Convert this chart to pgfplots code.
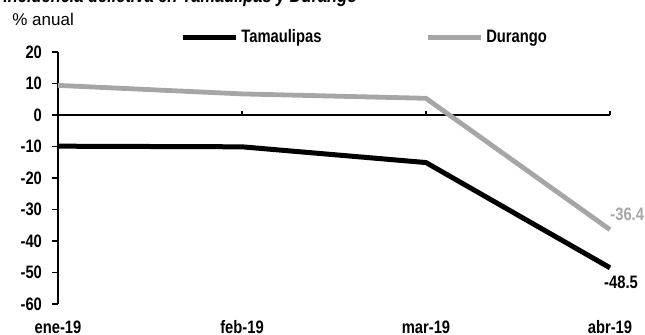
\documentclass[border=0pt]{standalone}
\usepackage{pgfplots}
\pgfplotsset{compat=1.18}
\usepackage{fontspec}
\setmainfont{Liberation Sans}
\newfontfamily\narrowfont{Liberation Sans}[FakeStretch=0.82]
\definecolor{dgrey}{HTML}{A6A6A6}
\begin{document}
\begin{tikzpicture}
\begin{axis}[
  at={(29pt,15.5pt)}, anchor=south west,
  width=276pt, height=126pt, scale only axis,
  xmin=0, xmax=3, ymin=-60, ymax=20,
  clip=false,
  axis x line*=bottom, axis y line*=left,
  x axis line style={draw=none},
  y axis line style={line width=0.8pt, -},
  xtick={0,1,2,3}, xticklabels={ene-19,feb-19,mar-19,abr-19},
  xtick style={draw=none},
  xticklabel style={anchor=base, yshift=-12pt},
  ytick={-60,-50,-40,-30,-20,-10,0,10,20},
  yticklabels={-60,-50,-40,-30,-20,-10,0,10,20},
  ytick style={black, line width=0.8pt},
  tick align=outside, major tick length=3pt,
  yticklabel style={xshift=-1.5pt},
  tick label style={font=\narrowfont\bfseries\fontsize{9}{10}\selectfont},
  legend columns=2,
  legend style={at={(0.221,1.056)}, anchor=west, draw=none, fill=none,
    inner sep=0pt, font=\narrowfont\bfseries\fontsize{9}{10}\selectfont,
    nodes={inner sep=1.5pt},
    /tikz/every even column/.append style={column sep=50.5pt}},
  legend image code/.code={\draw[#1] (0pt,0pt) -- (26.5pt,0pt);},
]
\draw[black, line width=0.8pt] (axis cs:0,0) -- (axis cs:3,0);
\pgfplotsinvokeforeach{1,2,3}{\draw[black, line width=0.8pt] (axis cs:#1,0) -- ++(0pt,2pt);}
\addplot[black, line width=2.5pt, line join=round] coordinates {(0,-9.9) (1,-10.1) (2,-15.1) (3,-48.5)};
\addlegendentry{Tamaulipas}
\addplot[dgrey, line width=2.4pt, line join=round] coordinates {(0,9.4) (1,6.7) (2,5.3) (3,-36.4)};
\addlegendentry{Durango}
\node[anchor=west, yshift=7.5pt, inner sep=0pt, text=dgrey, font=\narrowfont\bfseries\fontsize{9}{10}\selectfont] at (axis cs:3,-36.4) {-36.4};
\node[anchor=center, xshift=5.5pt, yshift=-7.5pt, inner sep=0pt, font=\narrowfont\bfseries\fontsize{9}{10}\selectfont] at (axis cs:3,-48.5) {-48.5};
\end{axis}
\node[anchor=base west, inner sep=0pt, font=\narrowfont\bfseries\itshape\fontsize{10}{11}\selectfont] at (1.5pt,166.2pt) {Incidencia delictiva en Tamaulipas y Durango};
\node[anchor=base west, inner sep=0pt, font=\fontsize{8.5}{10}\selectfont] at (6pt,154.5pt) {\% anual};
\pgfresetboundingbox
\useasboundingbox (0,0) rectangle (322.5pt,167.5pt);
\end{tikzpicture}
\end{document}
